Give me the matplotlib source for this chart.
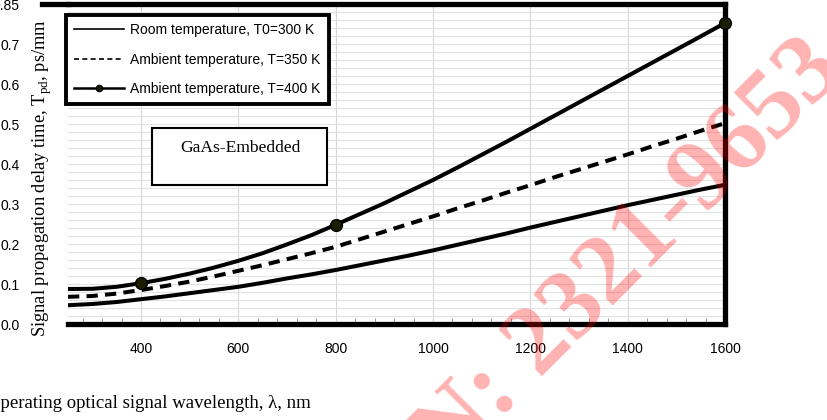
import matplotlib.pyplot as plt
from matplotlib.lines import Line2D
from matplotlib.patches import Rectangle

# Wavelength (nm) and delay time (ps/mm)
wavelength = [250, 300, 350, 400, 450, 500, 550, 600, 650, 700, 750, 800, 850, 900,
              950, 1000, 1050, 1100, 1150, 1200, 1250, 1300, 1350, 1400, 1450, 1500, 1550, 1600]
t_300 = [0.047, 0.050, 0.055, 0.062, 0.069, 0.077, 0.085, 0.093, 0.103, 0.114,
         0.124, 0.135, 0.147, 0.159, 0.171, 0.184, 0.198, 0.212, 0.226, 0.241,
         0.255, 0.269, 0.283, 0.297, 0.310, 0.323, 0.336, 0.348]
t_350 = [0.068, 0.070, 0.076, 0.085, 0.095, 0.106, 0.119, 0.133, 0.147, 0.162,
         0.177, 0.193, 0.212, 0.231, 0.250, 0.269, 0.289, 0.308, 0.328, 0.347,
         0.367, 0.386, 0.405, 0.424, 0.444, 0.463, 0.483, 0.502]
t_400 = [0.0875, 0.088, 0.093, 0.102, 0.113, 0.126, 0.141, 0.158, 0.177, 0.199,
         0.222, 0.248, 0.275, 0.302, 0.331, 0.360, 0.391, 0.423, 0.455, 0.488,
         0.521, 0.554, 0.587, 0.620, 0.653, 0.686, 0.719, 0.7525]
marked = [400, 800, 1600]

x_ticks = [400, 600, 800, 1000, 1200, 1400, 1600]
y_ticks = [0.0, 0.1, 0.2, 0.3, 0.4, 0.5, 0.6, 0.7, 0.8]
y_tick_labels = ['0.0', '0.1', '0.2', '0.3', '0.4', '0.5', '0.6', '0.7', '0.85']

W, H = 828, 420
fig = plt.figure(figsize=(W / 100, H / 100), dpi=100)
ax = fig.add_axes([68 / W, 1 - 324 / H, (725 - 68) / W, (324 - 4) / H])

ax.plot(wavelength, t_300, color='black', lw=2.9)
ax.plot(wavelength, t_350, color='black', lw=2.9, dashes=(2.8, 1.8))
ax.plot(wavelength, t_400, color='black', lw=2.9)
mk_y = [t_400[wavelength.index(w)] for w in marked]
ax.plot(marked, mk_y, 'o', ms=8.5, mfc='#1c1c00', mec='black', mew=1, clip_on=False, zorder=5)

ax.set_xlim(250, 1600)
ax.set_ylim(0, 0.8)
ax.set_xticks(x_ticks)
ax.set_xticks(range(280, 1600, 40), minor=True)
ax.set_yticks(y_ticks)
ax.set_yticklabels(y_tick_labels)
ax.set_yticks([i * 0.02 for i in range(41)], minor=True)
ax.grid(axis='x', which='major', color='#d8d8d8', lw=0.8)
ax.grid(axis='y', which='both', color='#e2e2e2', lw=0.8)
ax.tick_params(axis='x', which='major', length=0, pad=13, labelsize=10)
ax.tick_params(axis='x', which='minor', length=4, direction='in', color='#888888', width=0.6)
ax.tick_params(axis='y', which='both', length=0, pad=35, labelsize=10)
for lab in ax.get_xticklabels() + ax.get_yticklabels():
    lab.set_fontfamily('Liberation Sans')

ax.spines['left'].set_visible(False)
for s in ['top', 'right', 'bottom']:
    ax.spines[s].set_linewidth(3.8)
    ax.spines[s].set_capstyle('projecting')
fig.add_artist(Line2D([42 / W, 68 / W], [1 - 4 / H, 1 - 4 / H], color='black', lw=3.8,
                      transform=fig.transFigure))

# legend
handles = [
    Line2D([], [], color='black', lw=1.2),
    Line2D([], [], color='black', lw=1.2, dashes=(3, 2)),
    Line2D([], [], color='black', lw=1.8, marker='o', ms=4.5, mfc='#1c1c00', mec='black'),
]
labels = ['Room temperature, T0=300 K', 'Ambient temperature, T=350 K',
          'Ambient temperature, T=400 K']
leg = ax.legend(handles, labels, loc='upper left', bbox_to_anchor=(66 / W, 1 - 15 / H),
                bbox_transform=fig.transFigure, prop={'family': 'Liberation Sans', 'size': 10},
                handlelength=3.6, handletextpad=0.4, labelspacing=1.1, borderpad=0.6,
                borderaxespad=0, fancybox=False, framealpha=1, edgecolor='black')
leg.get_frame().set_linewidth(2.8)

# text box
fig.add_artist(Rectangle((152 / W, 1 - 185 / H), 175 / W, 57 / H, transform=fig.transFigure,
                         fill=True, facecolor='white', edgecolor='black', lw=1.5, zorder=4))
fig.text(240 / W, 1 - 148 / H, 'GaAs-Embedded', ha='center', va='center',
         family='Liberation Serif', fontsize=12.6, zorder=5)

# axis titles
fig.text(42 / W, 1 - 178 / H, 'Signal propagation delay time, T$_{\\mathregular{pd}}$, ps/mm',
         rotation=90, ha='center', va='center', family='Liberation Serif', fontsize=13.3)
fig.text(-13 / W, 1 - 403 / H, 'Operating optical signal wavelength, λ, nm',
         ha='left', va='center', family='Liberation Serif', fontsize=13.5)

# watermark
fig.text(845 / W, 1 - 72 / H, 'ISSN: 2321-9653', rotation=45, rotation_mode='anchor',
         ha='right', va='baseline', family='Liberation Serif', fontweight='bold',
         fontsize=72, color='red', alpha=0.3, zorder=10)

fig.savefig('out.png', dpi=100)
